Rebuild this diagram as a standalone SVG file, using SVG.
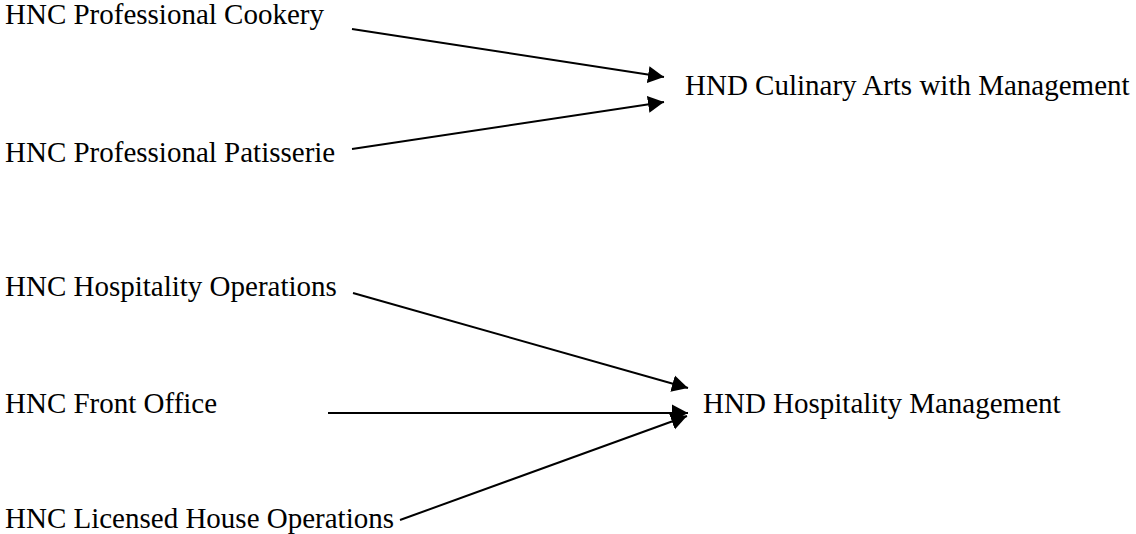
<svg xmlns="http://www.w3.org/2000/svg" width="1136" height="534" viewBox="0 0 1136 534">
  <style>
    .label { font-family: "Liberation Serif", "Times New Roman", serif; font-size: 29px; fill: #000; }
    .edge { stroke: #000; stroke-width: 2; fill: none; marker-end: url(#arrow); }
  </style>
  <defs>
    <marker id="arrow" markerUnits="userSpaceOnUse" markerWidth="18" markerHeight="20" viewBox="0 -10 18 20" refX="16" refY="0" orient="auto">
      <path d="M0,-8.5 L16,0 L0,8.5 Z" fill="#000"/>
    </marker>
  </defs>
  <rect width="1136" height="534" fill="#fff"/>

  <g id="hnc-cookery"><text class="label" x="5" y="24">HNC Professional Cookery</text></g>
  <g id="hnc-patisserie"><text class="label" x="5" y="162">HNC Professional Patisserie</text></g>
  <g id="hnd-culinary"><text class="label" x="685" y="95">HND Culinary Arts with Management</text></g>

  <g id="hnc-hospitality-ops"><text class="label" x="5" y="296">HNC Hospitality Operations</text></g>
  <g id="hnc-front-office"><text class="label" x="5" y="413">HNC Front Office</text></g>
  <g id="hnc-licensed-house"><text class="label" x="5" y="528">HNC Licensed House Operations</text></g>
  <g id="hnd-hospitality"><text class="label" x="703" y="413">HND Hospitality Management</text></g>

  <g id="connectors">
    <line class="edge" x1="352" y1="29" x2="664" y2="77"/>
    <line class="edge" x1="352" y1="149" x2="664" y2="102"/>
    <line class="edge" x1="353" y1="293" x2="688" y2="388"/>
    <line class="edge" x1="328" y1="413" x2="688" y2="413"/>
    <line class="edge" x1="400" y1="520" x2="687" y2="416"/>
  </g>
</svg>
